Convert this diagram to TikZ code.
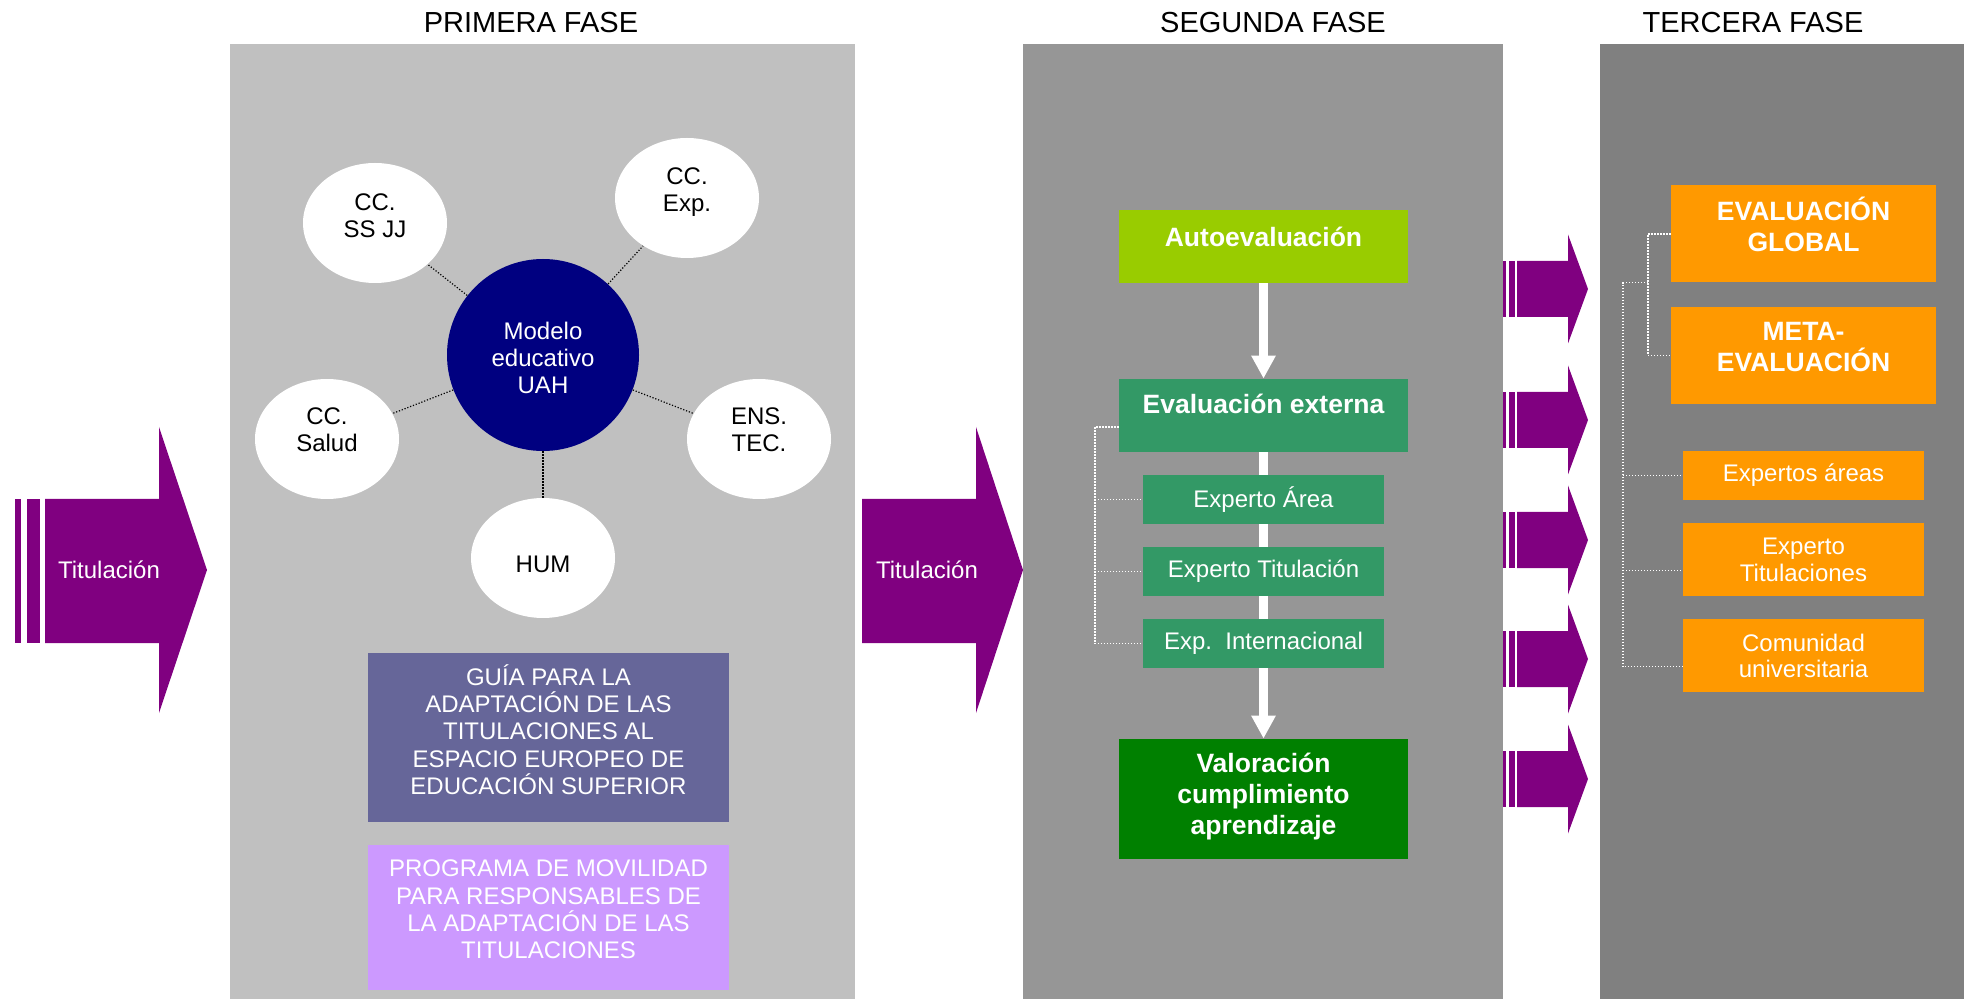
\documentclass[tikz,border=0pt]{standalone}
\usepackage{fontspec}
\setmainfont{Liberation Sans}
\usetikzlibrary{shapes.geometric, arrows.meta}

\definecolor{fasegris1}{HTML}{C0C0C0}
\definecolor{fasegris2}{HTML}{969696}
\definecolor{fasegris3}{HTML}{808080}
\definecolor{morado}{HTML}{800080}
\definecolor{marino}{HTML}{000080}
\definecolor{lima}{HTML}{99CC00}
\definecolor{verdemar}{HTML}{339966}
\definecolor{verde}{HTML}{008000}
\definecolor{pizarra}{HTML}{666699}
\definecolor{lila}{HTML}{CC99FF}
\definecolor{naranja}{HTML}{FF9900}

\newcommand{\bajo}[1]{\rule[-#1]{0pt}{#1}}

\begin{document}
\begin{tikzpicture}[x=0.5pt, y=-0.5pt]
	\tikzset{
		txt/.style={font=\fontsize{12}{13.6}\selectfont, align=center, inner sep=0pt},
		negrita/.style={font=\fontsize{13.25}{15.4}\selectfont\bfseries, align=center, inner sep=0pt},
		titulo/.style={font=\fontsize{14.5}{17}\selectfont, anchor=base},
		caja/.style={rectangle, inner sep=0pt, text=white},
		elipse/.style={ellipse, fill=white, inner sep=0pt, minimum width=72pt, minimum height=60pt, txt, font=\fontsize{12}{13.5}\selectfont},
		punteado/.style={line width=0.6pt, dash pattern=on 0.6pt off 0.9pt},
		flecha/.style={white, line width=4.25pt, -{Triangle[width=11.5pt, length=11.5pt]}},
		flechita/.pic={
			\fill[morado] (-85,-28) rectangle (-82,28);
			\fill[morado] (-79,-28) rectangle (-73,28);
			\fill[morado] (-71,-28) -- (-20,-28) -- (-20,-54.5) -- (0,0) -- (-20,54.5) -- (-20,28) -- (-71,28) -- cycle;
		}
	};

	\useasboundingbox (0,0) rectangle (1964,999);

	% fases
	\fill[fasegris1] (230,44) rectangle (855,999);
	\fill[fasegris2] (1023,44) rectangle (1503,999);
	\fill[fasegris3] (1600,44) rectangle (1964,999);

	\node[titulo] (t1) at (531,32.3) {PRIMERA FASE};
	\node[titulo] (t2) at (1273,32.3) {SEGUNDA FASE};
	\node[titulo] (t3) at (1753,32.3) {TERCERA FASE};

	% flechas grandes
	\fill[morado] (15,499) rectangle (21,643);
	\fill[morado] (27,499) rectangle (40,643);
	\fill[morado] (45,499) -- (159,499) -- (159,427) -- (207,570) -- (159,713) -- (159,643) -- (45,643) -- cycle;
	\node[txt, text=white] (tit1) at (109,570) {Titulación};

	\fill[morado] (862,499) -- (976,499) -- (976,427) -- (1023,570) -- (976,713) -- (976,643) -- (862,643) -- cycle;
	\node[txt, text=white] (tit2) at (927,570) {Titulación};

	\pic at (1588,289) {flechita};
	\pic at (1588,420) {flechita};
	\pic at (1588,540) {flechita};
	\pic at (1588,659) {flechita};
	\pic at (1588,779) {flechita};

	% primera fase
	\node[circle, fill=marino, minimum size=96pt, txt, text=white] (mod) at (543,355) {\rule{0pt}{11.8pt}Modelo\\educativo\\UAH};
	\node[elipse] (ssjj) at (375,223) {CC.\\SS JJ\bajo{7pt}};
	\node[elipse] (exp) at (687,198) {CC.\\Exp.\bajo{8pt}};
	\node[elipse] (salud) at (327,439) {CC.\\Salud\bajo{9pt}};
	\node[elipse] (ens) at (759,439) {ENS.\\TEC.\bajo{9pt}};
	\node[elipse] (hum) at (543,558) {\rule{0pt}{15pt}HUM};

	\draw[punteado] (mod) to (ssjj);
	\draw[punteado] (mod) to (exp);
	\draw[punteado] (mod) to (salud);
	\draw[punteado] (mod) to (ens);
	\draw[punteado] (mod) to (hum);

	\node[caja, txt, fill=pizarra, minimum width=180.5pt, minimum height=84.5pt, font=\fontsize{12}{13.7}\selectfont] (guia) at (548.5,737.5)
		{GUÍA PARA LA\\ADAPTACIÓN DE LAS\\TITULACIONES AL\\ESPACIO EUROPEO DE\\EDUCACIÓN SUPERIOR\bajo{8pt}};
	\node[caja, txt, fill=lila, minimum width=180.5pt, minimum height=72.5pt, font=\fontsize{12}{13.7}\selectfont] (prog) at (548.5,917.5)
		{PROGRAMA DE MOVILIDAD\\PARA RESPONSABLES DE\\LA ADAPTACIÓN DE LAS\\TITULACIONES\bajo{8pt}};

	% segunda fase
	\node[caja, negrita, fill=lima, minimum width=144.5pt, minimum height=36.5pt] (auto) at (1263.5,246.5) {Autoevaluación\bajo{10pt}};
	\node[caja, negrita, fill=verdemar, minimum width=144.5pt, minimum height=36.5pt] (ext) at (1263.5,415.5) {Evaluación externa\bajo{12pt}};
	\node[caja, negrita, fill=verde, minimum width=144.5pt, minimum height=60pt] (val) at (1263.5,799) {Valoración\\cumplimiento\\aprendizaje\bajo{5pt}};

	\draw[flecha] (auto) to (ext);
	\draw[flecha] (ext) to (val);

	\node[caja, txt, fill=verdemar, minimum width=120.5pt, minimum height=24.5pt] (ea) at (1263.5,499.5) {Experto Área};
	\node[caja, txt, fill=verdemar, minimum width=120.5pt, minimum height=24.5pt] (et) at (1263.5,571.5) {Experto Titulación};
	\node[caja, txt, fill=verdemar, minimum width=120.5pt, minimum height=24.5pt] (ei) at (1263.5,643.5) {Exp.\ \ Internacional};

	\coordinate (sb) at (1095,427);
	\draw[punteado, white] (sb -| ext.west) to (sb) |- (ei.west);
	\draw[punteado, white] (sb |- ea.west) to (ea.west);
	\draw[punteado, white] (sb |- et.west) to (et.west);

	% tercera fase
	\node[caja, negrita, fill=naranja, minimum width=132.5pt, minimum height=48.5pt] (eg) at (1803.5,234) {EVALUACIÓN\\GLOBAL\bajo{9.5pt}};
	\node[caja, negrita, fill=naranja, minimum width=132.5pt, minimum height=48.25pt] (meta) at (1803.5,355.3) {META-\\EVALUACIÓN\bajo{8.5pt}};
	\node[caja, txt, fill=naranja, minimum width=120.5pt, minimum height=24.25pt] (exa) at (1803.5,475.3) {Expertos áreas};
	\node[caja, txt, fill=naranja, minimum width=120.5pt, minimum height=36.5pt, font=\fontsize{12}{13.5}\selectfont] (etit) at (1803.5,559.5) {Experto\\Titulaciones};
	\node[caja, txt, fill=naranja, minimum width=120.5pt, minimum height=36.5pt, font=\fontsize{12}{13}\selectfont] (com) at (1803.5,655.5) {Comunidad\\universitaria};

	\coordinate (ib) at (1648,282.6);
	\coordinate (ob) at (1623,282.6);
	\coordinate (etp) at ([yshift=-5.5pt]etit.west);
	\coordinate (comp) at ([yshift=-5.5pt]com.west);
	\draw[punteado, white] (eg.west) -| (ib) |- (meta.west);
	\draw[punteado, white] (ib) to (ob) |- (comp);
	\draw[punteado, white] (ob |- exa.west) to (exa.west);
	\draw[punteado, white] (ob |- etp) to (etp);

\end{tikzpicture}
\end{document}
